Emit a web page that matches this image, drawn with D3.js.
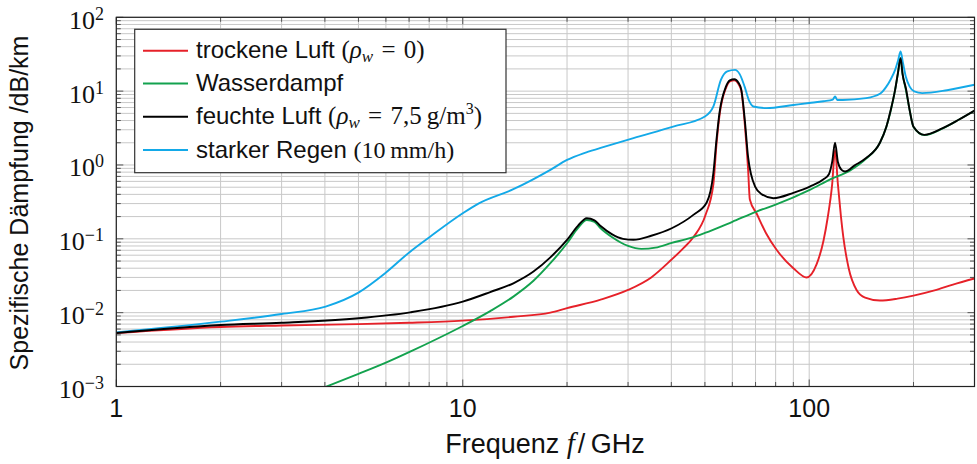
<!DOCTYPE html>
<html lang="de">
<head>
<meta charset="UTF-8">
<title>Spezifische Dämpfung</title>
<script src="https://cdn.jsdelivr.net/npm/d3@7/dist/d3.min.js"></script>
<style>
  body { margin: 0; background: #fff; }
  svg text { font-family: "Liberation Sans", Arial, sans-serif; fill: #111; }
  .math { font-family: "Liberation Serif", "DejaVu Serif", serif; }
</style>
</head>
<body>
<div id="chart"></div>
<script>
// trockene Luft
const dryF = [1, 2, 3, 5, 7, 10, 14, 17.9, 20, 25, 30, 35, 40, 43, 46.3, 50.2, 52.9, 54, 55.1, 57.5, 59, 60.8, 62.5, 63.7, 65.2, 66.6, 67.4, 70.5, 75, 80.5, 90, 98.3, 105, 110, 113, 116.5, 118.75, 121, 123.5, 125.4, 130, 137, 145, 160, 180, 200, 230, 260, 300];
const dryV = [0.0053, 0.0064, 0.0067, 0.0070, 0.0073, 0.0078, 0.0088, 0.0100, 0.0115, 0.0150, 0.0203, 0.030, 0.052, 0.072, 0.105, 0.21, 0.55, 1.9, 4.7, 11, 13.5, 14, 12.5, 10, 3.5, 0.9, 0.34, 0.22, 0.12, 0.071, 0.040, 0.030, 0.045, 0.095, 0.19, 0.55, 1.6, 0.55, 0.2, 0.107, 0.04, 0.0203, 0.016, 0.0146, 0.0155, 0.017, 0.020, 0.024, 0.029];

// Wasserdampf
const wvF = [4.0, 5, 6, 7.05, 8.5, 10, 12, 14, 16, 17.9, 20, 21.5, 22.8, 24, 25, 27, 30, 32.8, 36, 40.1, 45.3, 50, 60, 70.5, 80, 100.4, 115, 131, 146, 160, 167, 172, 177, 180.5, 183.3, 186, 190, 195, 200, 215, 243, 270, 300];
const wvV = [0.00098, 0.00148, 0.0021, 0.00296, 0.0045, 0.0066, 0.0105, 0.0165, 0.027, 0.0467, 0.087, 0.14, 0.18, 0.17, 0.139, 0.105, 0.080, 0.073, 0.076, 0.088, 0.102, 0.12, 0.17, 0.234, 0.29, 0.46, 0.64, 0.84, 1.22, 2.0, 3.28, 5.5, 10.4, 18, 28, 17, 10.6, 5.5, 3.28, 2.54, 3.14, 4.1, 5.43];

// feuchte Luft
const humF = [1, 2, 3, 5, 7.05, 10, 12, 14, 16, 17.9, 20, 21.5, 22.8, 24, 25, 27, 29, 31.1, 35, 40.1, 46.3, 50.6, 52.9, 54, 55.1, 57.5, 59, 60.8, 62.5, 63.7, 65.2, 66.6, 69.8, 73, 78.8, 90, 100.4, 110, 114, 116.5, 118.75, 121, 124, 127, 135, 146, 160, 167, 172, 177, 180.5, 183.6, 186, 190.3, 195, 200, 215, 243, 270, 300];
const humV = [0.0053, 0.0068, 0.0073, 0.0084, 0.0101, 0.0141, 0.019, 0.025, 0.036, 0.056, 0.0966, 0.15, 0.19, 0.178, 0.149, 0.115, 0.1, 0.097, 0.11, 0.139, 0.211, 0.31, 0.78, 2.2, 5.1, 11.5, 14, 14.5, 13, 10.4, 4, 1.3, 0.51, 0.4, 0.355, 0.42, 0.51, 0.64, 0.75, 1.1, 2.0, 1.1, 0.86, 0.815, 0.98, 1.24, 2.0, 3.3, 5.6, 10.4, 18, 28, 17, 10.7, 5.5, 3.3, 2.56, 3.16, 4.1, 5.46];

// starker Regen
const rainF = [1, 2, 3, 4.02, 5, 5.97, 7.05, 8.05, 10, 11.1, 14, 17.9, 20, 22.3, 25, 31.1, 40.5, 50, 52.9, 55.6, 58, 61.1, 63, 65.1, 67, 69, 75.3, 90, 100, 110, 117, 118.75, 120.5, 125, 146, 160, 167, 172, 177, 180.5, 183.6, 186.5, 190, 195, 201, 212, 250, 300];
const rainV = [0.0054, 0.00755, 0.0096, 0.0121, 0.0187, 0.0342, 0.067, 0.107, 0.222, 0.30, 0.47, 0.86, 1.17, 1.44, 1.7, 2.31, 3.31, 4.53, 6.2, 14.2, 18.5, 19.4, 17, 11.5, 7.5, 6.2, 5.89, 6.5, 6.9, 7.3, 7.7, 8.45, 7.6, 7.6, 8.04, 9.2, 11.5, 14.5, 19.4, 26, 34.4, 24, 15.8, 11.5, 9.9, 9.4, 10.3, 12.2];

const xTicks = [1, 10, 100];
const yExps = [-3, -2, -1, 0, 1, 2];

const W = 977, H = 464;
const pLeft = 116.3, pRight = 974.5, pTop = 17.3, pBottom = 386.5;

const svg = d3.select("#chart").append("svg")
    .attr("width", W)
    .attr("height", H);

const x = d3.scaleLog().domain([1, 300]).range([pLeft, pRight]);
const y = d3.scaleLog().domain([1e-3, 1e2]).range([pBottom, pTop]);

// grid, major and minor
const xGrid = [];
for (let d = 1; d <= 100; d *= 10)
    for (let k = 1; k <= 9; k++)
        if (k * d <= 300) xGrid.push(k * d);
const yGrid = [];
for (let e = -3; e < 2; e++)
    for (let k = 1; k <= 9; k++) yGrid.push(k * Math.pow(10, e));
yGrid.push(100);

const grid = svg.append("g").attr("stroke", "#c8c8c8").attr("stroke-width", 1);
grid.selectAll(".gx").data(xGrid).join("line")
    .attr("x1", d => x(d)).attr("x2", d => x(d))
    .attr("y1", pTop).attr("y2", pBottom);
grid.selectAll(".gy").data(yGrid).join("line")
    .attr("x1", pLeft).attr("x2", pRight)
    .attr("y1", d => y(d)).attr("y2", d => y(d));

// inner ticks on all four sides
const isMajor = v => Math.abs(Math.log10(v) - Math.round(Math.log10(v))) < 1e-9;
const tk = svg.append("g").attr("stroke", "#555").attr("stroke-width", 1);
xGrid.forEach(v => {
    const L = isMajor(v) ? 7 : 4.5;
    tk.append("line").attr("x1", x(v)).attr("x2", x(v)).attr("y1", pBottom).attr("y2", pBottom - L);
    tk.append("line").attr("x1", x(v)).attr("x2", x(v)).attr("y1", pTop).attr("y2", pTop + L);
});
yGrid.forEach(v => {
    const L = isMajor(v) ? 7 : 4.5;
    tk.append("line").attr("y1", y(v)).attr("y2", y(v)).attr("x1", pLeft).attr("x2", pLeft + L);
    tk.append("line").attr("y1", y(v)).attr("y2", y(v)).attr("x1", pRight).attr("x2", pRight - L);
});

// curves
svg.append("clipPath").attr("id", "clip")
    .append("rect").attr("x", pLeft).attr("y", pTop)
    .attr("width", pRight - pLeft).attr("height", pBottom - pTop);

const series = [
    {f: dryF, v: dryV, color: "#e62129"},
    {f: wvF, v: wvV, color: "#13a24e"},
    {f: rainF, v: rainV, color: "#13a9e8"},
    {f: humF, v: humV, color: "#000000"}
];

const line = d3.line()
    .x(d => x(d[0]))
    .y(d => y(d[1]))
    .curve(d3.curveMonotoneX);

const plot = svg.append("g").attr("clip-path", "url(#clip)");
series.forEach(s => {
    plot.append("path")
        .attr("d", line(d3.zip(s.f, s.v)))
        .attr("fill", "none")
        .attr("stroke", s.color)
        .attr("stroke-width", 1.9)
        .attr("stroke-linejoin", "round");
});

// frame
svg.append("rect")
    .attr("x", pLeft).attr("y", pTop)
    .attr("width", pRight - pLeft).attr("height", pBottom - pTop)
    .attr("fill", "none").attr("stroke", "#222").attr("stroke-width", 1.2);

// x tick labels
svg.selectAll(".xl").data(xTicks).join("text")
    .attr("x", d => x(d)).attr("y", 417)
    .attr("text-anchor", "middle")
    .attr("font-size", 25)
    .text(d => d);

// y tick labels 10^n
yExps.forEach(e => {
    const t = svg.append("text")
        .attr("class", "math")
        .attr("x", 104).attr("y", y(Math.pow(10, e)) + 11.5)
        .attr("text-anchor", "end")
        .attr("font-size", 26);
    t.append("tspan").text("10");
    t.append("tspan").attr("dy", -9).attr("font-size", 18)
        .text(e < 0 ? "\u2212" + (-e) : e);
});

// axis titles
const xt = svg.append("text")
    .attr("x", 545).attr("y", 453)
    .attr("text-anchor", "middle")
    .attr("font-size", 27);
xt.append("tspan").text("Frequenz ");
xt.append("tspan").attr("class", "math").attr("font-style", "italic").attr("font-size", 29).text("f");
xt.append("tspan").attr("dx", 3).text("/\u2009GHz");

svg.append("text")
    .attr("transform", "translate(28,203) rotate(-90)")
    .attr("text-anchor", "middle")
    .attr("font-size", 25)
    .text("Spezifische Dämpfung /dB/km");

// legend
const lg = svg.append("g");
lg.append("rect")
    .attr("x", 134.7).attr("y", 29.3)
    .attr("width", 371.3).attr("height", 143.4)
    .attr("fill", "#fff").attr("stroke", "#333").attr("stroke-width", 1.2);

const rows = [50.7, 83.5, 116.7, 150];
const legColors = ["#e62129", "#13a24e", "#000000", "#13a9e8"];
rows.forEach((ry, i) => {
    lg.append("line")
        .attr("x1", 143).attr("x2", 188)
        .attr("y1", ry).attr("y2", ry)
        .attr("stroke", legColors[i]).attr("stroke-width", 1.9);
});

function rhoW(t) {
    t.append("tspan").attr("class", "math").attr("font-style", "italic").attr("font-size", 25).text("\u03c1");
    t.append("tspan").attr("class", "math").attr("font-style", "italic").attr("font-size", 17).attr("dy", 4).text("w");
}

let t = lg.append("text").attr("x", 196).attr("y", rows[0] + 7.5).attr("font-size", 24);
t.append("tspan").text("trockene Luft ");
t.append("tspan").attr("class", "math").attr("font-size", 25).text("(");
rhoW(t);
t.append("tspan").attr("class", "math").attr("font-size", 25).attr("dy", -4).text("\u2004=\u20040)");

t = lg.append("text").attr("x", 196).attr("y", rows[1] + 7.5).attr("font-size", 24);
t.append("tspan").text("Wasserdampf");

t = lg.append("text").attr("x", 196).attr("y", rows[2] + 7.5).attr("font-size", 24);
t.append("tspan").text("feuchte Luft ");
t.append("tspan").attr("class", "math").attr("font-size", 25).text("(");
rhoW(t);
t.append("tspan").attr("class", "math").attr("font-size", 25).attr("dy", -4).text("\u2004=\u20047,5\u2009g/m");
t.append("tspan").attr("class", "math").attr("font-size", 16).attr("dy", -10).text("3");
t.append("tspan").attr("class", "math").attr("font-size", 25).attr("dy", 10).text(")");

t = lg.append("text").attr("x", 196).attr("y", rows[3] + 7.5).attr("font-size", 24);
t.append("tspan").text("starker Regen ");
t.append("tspan").attr("class", "math").attr("font-size", 24).text("(10\u2009mm/h)");
</script>
</body>
</html>
